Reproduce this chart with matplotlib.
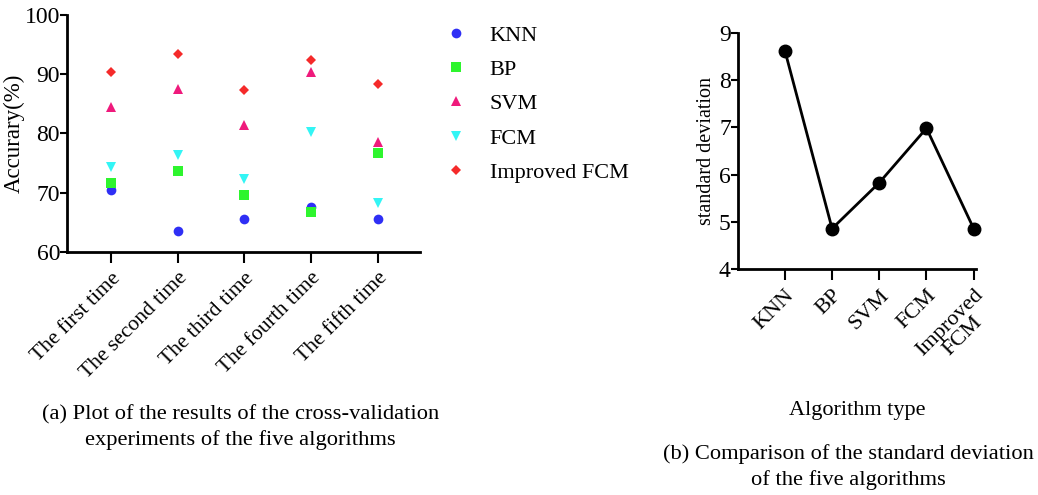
"""
Cross-validation accuracy of five algorithms and their standard deviation.
"""

import matplotlib
matplotlib.use("Agg")
import matplotlib.pyplot as plt

plt.rcParams["font.family"] = ["Liberation Serif", "DejaVu Serif"]

# data
runs = ["The first time", "The second time", "The third time",
        "The fourth time", "The fifth time"]
knn = [70.4, 63.5, 65.5, 67.6, 65.5]
bp = [71.7, 73.6, 69.6, 66.7, 76.7]
svm = [84.4, 87.5, 81.5, 90.4, 78.5]
fcm = [74.4, 76.3, 72.3, 80.3, 68.3]
improved_fcm = [90.3, 93.35, 87.3, 92.3, 88.3]

algorithms = ["KNN", "BP", "SVM", "FCM", "Improved\nFCM"]
std_dev = [8.62, 4.86, 5.83, 6.98, 4.86]

fig = plt.figure(figsize=(10.38, 4.95), dpi=100)

# (a) scatter of accuracies
ax1 = fig.add_axes([0.0645, 0.491, 0.340, 0.479])
x = list(range(1, len(runs) + 1))
series = [
    ("KNN", knn, "o", "#2f2ff5", 7),
    ("BP", bp, "s", "#2ef52e", 7),
    ("SVM", svm, "^", "#ef1a7c", 7.5),
    ("FCM", fcm, "v", "#33f5f5", 7.5),
    ("Improved FCM", improved_fcm, "D", "#f52a2a", 5),
]
for name, vals, mk, col, ms in series:
    ax1.plot(x, vals, linestyle="none", marker=mk, color=col, ms=ms,
             markeredgewidth=0, label=name)

ax1.set_xlim(0.34, 5.63)
ax1.set_ylim(60, 100)
ax1.set_yticks([60, 70, 80, 90, 100])
ax1.set_xticks(x)
ax1.set_xticklabels(runs, rotation=45, ha="right", rotation_mode="anchor",
                    fontsize=15.5)
ax1.set_ylabel("Accurary(%)", fontsize=16.5, labelpad=0)
ax1.tick_params(axis="y", labelsize=17, width=1.5, length=5, pad=0)
ax1.tick_params(axis="x", width=1.5, length=8, pad=4)
for side in ["top", "right"]:
    ax1.spines[side].set_visible(False)
for side in ["left", "bottom"]:
    ax1.spines[side].set_linewidth(2)

fig.legend(loc="upper left", bbox_to_anchor=(0.4095, 0.99), frameon=False,
           fontsize=16, handletextpad=1.0, labelspacing=0.62,
           handlelength=1.0)

fig.text(0.232, 0.136, "(a) Plot of the results of the cross-validation\n"
         "experiments of the five algorithms", ha="center", va="center",
         fontsize=16.2, linespacing=1.38)

# (b) standard deviation line
ax2 = fig.add_axes([0.7107, 0.456, 0.2296, 0.478])
xb = list(range(1, len(algorithms) + 1))
ax2.plot(xb, std_dev, color="black", lw=2, marker="o", ms=9, clip_on=False)
ax2.set_xlim(0, 5.05)
ax2.set_ylim(4, 9)
ax2.set_yticks([4, 5, 6, 7, 8, 9])
ax2.set_xticks(xb)
ax2.set_xticklabels(algorithms, rotation=45, ha="right", rotation_mode="anchor",
                    fontsize=16, multialignment="center", linespacing=0.95)
ax2.set_ylabel("standard deviation", fontsize=14.5, labelpad=2)
ax2.set_xlabel("Algorithm type", fontsize=16, labelpad=20)
ax2.tick_params(axis="y", labelsize=17, width=1.5, length=5, pad=0)
ax2.tick_params(axis="x", width=1.5, length=8, pad=4)
for side in ["top", "right"]:
    ax2.spines[side].set_visible(False)
for side in ["left", "bottom"]:
    ax2.spines[side].set_linewidth(2)

fig.text(0.817, 0.0566, "(b) Comparison of the standard deviation\n"
         "of the five algorithms", ha="center", va="center",
         fontsize=16.2, linespacing=1.38)

fig.savefig("out.png", dpi=100)
